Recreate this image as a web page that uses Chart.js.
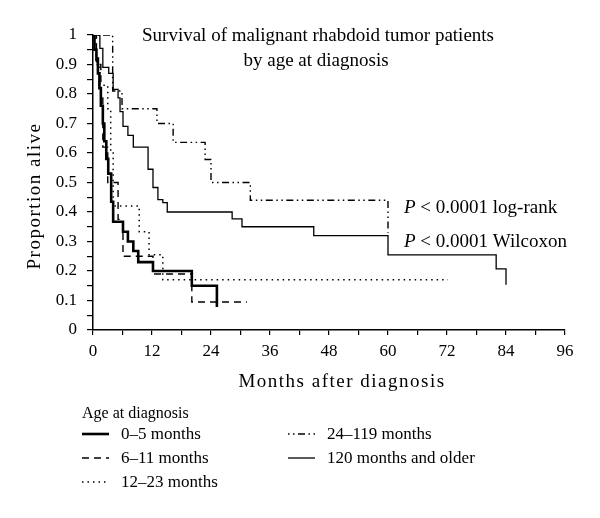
<!DOCTYPE html>
<html lang="en">
<head>
    <meta charset="UTF-8">
    <title>Survival of malignant rhabdoid tumor patients</title>
    <style>
        html, body { margin: 0; padding: 0; background: #fff; }
        #chart-container { width: 600px; height: 518px; }
    </style>
</head>
<body>
    <div id="chart-container">
        <canvas id="kmChart" width="600" height="518"></canvas>
    </div>

    <script src="https://cdn.jsdelivr.net/npm/chart.js"></script>

    <script>
        // Kaplan-Meier curves (months, proportion alive)
        const groupNames = ['0–5 months', '6–11 months', '12–23 months', '24–119 months', '120 months and older'];

        const t0to5 = [0, 0.3, 0.7, 1.0, 1.3, 1.6, 2.0, 2.3, 2.7, 3.1, 3.7, 4.1, 6.1, 7.1, 8.2, 9.2, 12.2, 20.1, 25.2];
        const s0to5 = [1, 0.95, 0.92, 0.87, 0.82, 0.76, 0.70, 0.64, 0.58, 0.53, 0.435, 0.367, 0.333, 0.30, 0.268, 0.23, 0.20, 0.15, 0.078];

        const t6to11 = [0, 0.7, 1.6, 2.0, 3.0, 5.1, 6.1, 12.2, 20.1, 31.3];
        const s6to11 = [1, 0.90, 0.80, 0.62, 0.50, 0.375, 0.25, 0.19, 0.095, 0.095];

        const t12to23 = [0, 0.6, 1.4, 3.0, 3.6, 4.1, 9.4, 11.4, 14.2, 72.2];
        const s12to23 = [1, 0.90, 0.83, 0.75, 0.60, 0.42, 0.333, 0.255, 0.17, 0.17];

        const t24to119 = [0, 4.0, 5.9, 13.0, 16.3, 22.8, 24.0, 32.0, 60.0];
        const s24to119 = [1, 0.81, 0.75, 0.70, 0.636, 0.578, 0.50, 0.44, 0.33];

        const t120plus = [0, 1.4, 2.0, 3.2, 4.1, 5.1, 5.5, 6.1, 7.1, 8.2, 11.2, 12.2, 13.2, 14.2, 15.1, 28.3, 30.3, 44.9, 60.0, 82.0, 84.0];
        const s120plus = [1, 0.955, 0.89, 0.87, 0.816, 0.787, 0.74, 0.69, 0.66, 0.62, 0.545, 0.483, 0.442, 0.432, 0.40, 0.377, 0.35, 0.32, 0.255, 0.207, 0.153];

        const xTicks = [0, 12, 24, 36, 48, 60, 72, 84, 96];
        const yTicks = [0, 0.1, 0.2, 0.3, 0.4, 0.5, 0.6, 0.7, 0.8, 0.9, 1];

        const pTexts = ['< 0.0001 log-rank', '< 0.0001 Wilcoxon'];

        const serif = '"Liberation Serif", "DejaVu Serif", serif';

        function toPoints(times, surv) {
            return times.map((t, i) => ({ x: t, y: surv[i] }));
        }

        const lineStyles = [
            { width: 2.6, dash: [] },
            { width: 1.4, dash: [7, 5] },
            { width: 1.5, dash: [1.5, 4] },
            { width: 1.4, dash: [1.5, 3.5, 1.5, 3.5, 7, 3.5] },
            { width: 1.3, dash: [] }
        ];
        const allSeries = [
            [t0to5, s0to5], [t6to11, s6to11], [t12to23, s12to23], [t24to119, s24to119], [t120plus, s120plus]
        ];

        const datasets = allSeries.map((s, i) => ({
            label: groupNames[i],
            data: toPoints(s[0], s[1]),
            borderColor: '#000',
            borderWidth: lineStyles[i].width,
            borderDash: lineStyles[i].dash,
            stepped: 'before',
            pointRadius: 0,
            fill: false
        }));

        // text drawn on top: title, axis titles, p-values, legend
        const overlayPlugin = {
            id: 'overlay',
            afterDraw(chart) {
                const ctx = chart.ctx;
                ctx.save();
                ctx.fillStyle = '#000';
                ctx.strokeStyle = '#000';
                ctx.font = '19px ' + serif;
                ctx.textBaseline = 'alphabetic';
                ctx.textAlign = 'center';
                ctx.fillText('Survival of malignant rhabdoid tumor patients', 318, 41);
                ctx.fillText('by age at diagnosis', 316, 66);

                ctx.letterSpacing = '1.5px';
                ctx.fillText('Months after diagnosis', 342, 387);

                ctx.save();
                ctx.translate(40, 196);
                ctx.rotate(-Math.PI / 2);
                ctx.fillText('Proportion alive', 0, 0);
                ctx.restore();
                ctx.letterSpacing = '0px';

                // p-values
                ctx.textAlign = 'left';
                const px = 404;
                [213, 247].forEach((y, i) => {
                    ctx.font = 'italic 19px ' + serif;
                    ctx.fillText('P', px, y);
                    const w = ctx.measureText('P ').width;
                    ctx.font = '19px ' + serif;
                    ctx.fillText(pTexts[i], px + w, y);
                });

                // legend
                ctx.font = '16px ' + serif;
                ctx.fillText('Age at diagnosis', 82, 418);
                ctx.font = '17px ' + serif;
                const slots = [[82, 439], [82, 463], [82, 487], [288, 439], [288, 463]];
                datasets.forEach((ds, i) => {
                    const [lx, ly] = slots[i];
                    ctx.beginPath();
                    ctx.lineWidth = ds.borderWidth;
                    ctx.setLineDash(ds.borderDash);
                    ctx.moveTo(lx, ly - 5);
                    ctx.lineTo(lx + 27, ly - 5);
                    ctx.stroke();
                    ctx.setLineDash([]);
                    ctx.fillText(ds.label, lx + 39, ly);
                });
                ctx.restore();
            }
        };

        const ctx = document.getElementById('kmChart').getContext('2d');
        const kmChart = new Chart(ctx, {
            type: 'line',
            data: { datasets: datasets },
            plugins: [overlayPlugin],
            options: {
                responsive: false,
                animation: false,
                layout: { padding: { top: 35, right: 35, left: 0, bottom: 0 } },
                scales: {
                    x: {
                        type: 'linear',
                        min: 0,
                        max: 96,
                        afterFit: (scale) => { scale.height = 188; },
                        grid: { drawOnChartArea: false, drawTicks: true, tickLength: 5, color: '#000', lineWidth: 1.2 },
                        border: { display: true, color: '#000', width: 1.5 },
                        ticks: {
                            stepSize: 6,
                            autoSkip: false,
                            maxRotation: 0,
                            padding: 6,
                            color: '#000',
                            font: { family: serif, size: 17 },
                            callback: (v) => xTicks.includes(v) ? String(v) : ''
                        }
                    },
                    y: {
                        min: 0,
                        max: 1,
                        afterFit: (scale) => { scale.width = 93; },
                        grid: { drawOnChartArea: false, drawTicks: true, tickLength: 6, color: '#000', lineWidth: 1.2 },
                        border: { display: true, color: '#000', width: 1.5 },
                        ticks: {
                            stepSize: 0.05,
                            autoSkip: false,
                            padding: 10,
                            color: '#000',
                            font: { family: serif, size: 17 },
                            callback: (v) => {
                                const r = Math.round(v * 10) / 10;
                                return (Math.abs(v - r) < 1e-6 && yTicks.includes(r)) ? String(r) : '';
                            }
                        }
                    }
                },
                plugins: {
                    legend: { display: false },
                    tooltip: { enabled: false }
                }
            }
        });
    </script>
</body>
</html>
